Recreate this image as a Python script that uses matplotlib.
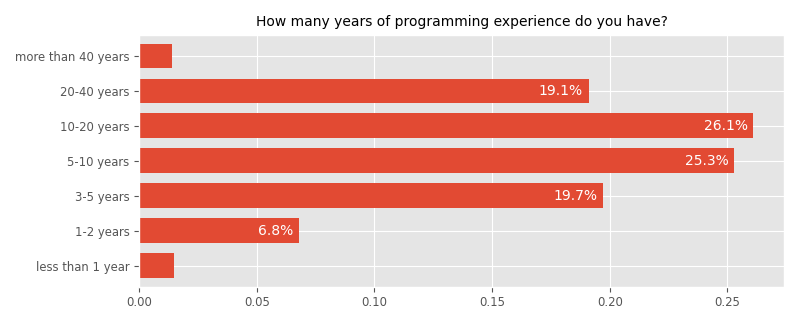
import matplotlib
matplotlib.use("Agg")
import matplotlib.pyplot as plt

plt.style.use("ggplot")

categories = ["less than 1 year", "1-2 years", "3-5 years", "5-10 years",
              "10-20 years", "20-40 years", "more than 40 years"]
shares = [0.015, 0.068, 0.197, 0.253, 0.261, 0.191, 0.014]

fig, ax = plt.subplots(figsize=(8, 3.25), dpi=100)
fig.subplots_adjust(left=0.174, right=0.98, top=0.893, bottom=0.118)

bars = ax.barh(categories, shares, height=0.7, color="#E24A33")
ax.set_ylim(-0.6, len(categories) - 0.4)
ax.set_title("How many years of programming experience do you have?",
             fontsize=10, color="black")

for rect, v in zip(bars, shares):
    if v >= 0.05:
        ax.text(v - 0.0024, rect.get_y() + rect.get_height() / 2,
                f"{v * 100:.1f}%", ha="right", va="center",
                color="white", fontsize=10)

ax.tick_params(labelsize=8.4)
fig.savefig("out.png", dpi=100)
